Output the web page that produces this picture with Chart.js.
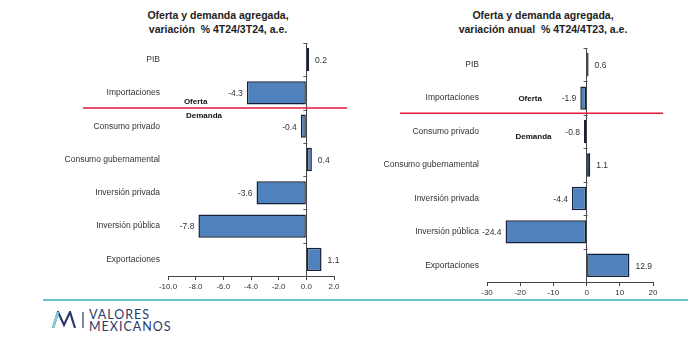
<!DOCTYPE html>
<html>
<head>
<meta charset="utf-8">
<script src="https://cdn.jsdelivr.net/npm/chart.js@4.4.1/dist/chart.umd.min.js"></script>
<style>
  body { margin: 0; background: #fff; width: 688px; height: 350px; position: relative; overflow: hidden; font-family: "Liberation Sans", Arial, sans-serif; }
  canvas { position: absolute; top: 0; }
  .titulo { position: absolute; top: 8px; width: 240px; font-weight: bold; font-size: 10.5px; line-height: 14px; text-align: center; color: #222; white-space: pre; }
  .linea { position: absolute; left: 43px; right: 0; top: 299px; height: 2px; background: #68c5cc; }
  .logo { position: absolute; left: 89px; top: 309px; font-family: Lato, "Open Sans", sans-serif; font-size: 12.5px; line-height: 11.5px; color: #2b3a6a; letter-spacing: 1px; }
  .icono { position: absolute; left: 51px; top: 311px; }
</style>
</head>
<body>
<div class="titulo" id="tituloIzq" style="left:98px"></div>
<div class="titulo" id="tituloDer" style="left:423px"></div>
<canvas id="graficaIzq" width="320" height="300" style="left:40px"></canvas>
<canvas id="graficaDer" width="300" height="306" style="left:370px"></canvas>
<div class="linea"></div>
<svg class="icono" width="36" height="18" viewBox="0 0 36 18">
  <path d="M2 17 L7 1 L13 14 L19 1 L24 17" fill="none" stroke="#2b3a6a" stroke-width="2.2"/>
  <path d="M2 17 L7 1" fill="none" stroke="#7fd0d6" stroke-width="2.4"/>
  <line x1="32" y1="1" x2="32" y2="17" stroke="#2b3a6a" stroke-width="1.2"/>
</svg>
<div class="logo">VALORES<br>MEXICANOS</div>

<script>
// Datos de la gráfica
const categorias = ['PIB', 'Importaciones', 'Consumo privado', 'Consumo gubernamental', 'Inversión privada', 'Inversión pública', 'Exportaciones'];
const varTrimestral = [0.2, -4.3, -0.4, 0.4, -3.6, -7.8, 1.1];
const varAnual = [0.6, -1.9, -0.8, 1.1, -4.4, -24.4, 12.9];
const tituloTrimestral = ['Oferta y demanda agregada,', 'variación  % 4T24/3T24, a.e.'];
const tituloAnual = ['Oferta y demanda agregada,', 'variación anual  % 4T24/4T23, a.e.'];
const ejeTrimestral = { min: -10, max: 2, paso: 2, decimales: 1 };
const ejeAnual = { min: -30, max: 20, paso: 10, decimales: 0 };

document.getElementById('tituloIzq').textContent = tituloTrimestral.join('\n');
document.getElementById('tituloDer').textContent = tituloAnual.join('\n');

const fuente = '"Liberation Sans", Arial, sans-serif';

// Plugin para etiquetas de valor, línea roja y textos Oferta / Demanda
const anotaciones = {
  id: 'anotaciones',
  afterDatasetsDraw(chart, args, opts) {
    const { ctx, chartArea } = chart;
    const x = chart.scales.x, y = chart.scales.y;
    const meta = chart.getDatasetMeta(0);
    const valores = chart.data.datasets[0].data;
    ctx.save();

    // marcas del eje de categorías sobre el cero
    const x0 = x.getPixelForValue(0);
    ctx.strokeStyle = '#555';
    ctx.lineWidth = 1;
    for (let i = 0; i <= valores.length; i++) {
      const yy = Math.round(y.getPixelForValue(i - 0.5)) + 0.5;
      ctx.beginPath();
      ctx.moveTo(x0 - 3, yy);
      ctx.lineTo(x0 + 1, yy);
      ctx.stroke();
    }

    // etiquetas de valor
    ctx.font = '8.5px ' + fuente;
    ctx.fillStyle = '#333';
    ctx.textBaseline = 'middle';
    meta.data.forEach((barra, i) => {
      const v = valores[i];
      if (v >= 0) {
        ctx.textAlign = 'left';
        ctx.fillText(v.toFixed(1), barra.x + 6, barra.y + 1);
      } else {
        ctx.textAlign = 'right';
        ctx.fillText(v.toFixed(1), barra.x - 4, barra.y + 1);
      }
    });

    // línea separadora Oferta / Demanda
    const ySep = y.getPixelForValue(opts.separador);
    ctx.strokeStyle = '#e3193b';
    ctx.lineWidth = 1.5;
    ctx.beginPath();
    ctx.moveTo(chartArea.left + opts.sepIzq, ySep);
    ctx.lineTo(chartArea.right + opts.sepDer, ySep);
    ctx.stroke();

    ctx.font = 'bold 8px ' + fuente;
    ctx.fillStyle = '#111';
    ctx.textAlign = 'center';
    ctx.fillText('Oferta', x.getPixelForValue(opts.oferta[0]), y.getPixelForValue(opts.oferta[1]));
    ctx.fillText('Demanda', x.getPixelForValue(opts.demanda[0]), y.getPixelForValue(opts.demanda[1]));
    ctx.restore();
  }
};

function crearGrafica(id, valores, eje, disposicion, anot) {
  return new Chart(document.getElementById(id), {
    type: 'bar',
    data: {
      labels: categorias,
      datasets: [{
        data: valores,
        backgroundColor: '#4f81bd',
        borderColor: '#15203a',
        borderWidth: 1.5,
        borderSkipped: false,
        barPercentage: 0.7,
        categoryPercentage: 1
      }]
    },
    options: {
      indexAxis: 'y',
      responsive: false,
      animation: false,
      devicePixelRatio: 1,
      layout: { padding: disposicion.padding },
      plugins: {
        legend: { display: false },
        tooltip: { enabled: false },
        anotaciones: anot
      },
      scales: {
        x: {
          min: eje.min,
          max: eje.max,
          afterFit: s => { s.height = 24; },
          afterBuildTicks: s => {
            const t = [];
            for (let v = eje.min; v <= eje.max; v += eje.paso) t.push({ value: v });
            s.ticks = t;
          },
          ticks: {
            font: { size: 8, family: fuente },
            color: '#333',
            padding: 2,
            maxRotation: 0,
            callback: v => Number(v).toFixed(eje.decimales)
          },
          grid: {
            color: c => (c.tick && c.tick.value === 0) ? '#444' : 'rgba(0,0,0,0)',
            tickColor: '#444',
            tickLength: 4
          },
          border: { color: '#444' }
        },
        y: {
          afterFit: s => { s.width = disposicion.anchoEje; },
          ticks: {
            font: { size: 8.5, family: fuente },
            color: '#333',
            padding: 8,
            autoSkip: false
          },
          grid: { display: false, drawTicks: false },
          border: { display: false }
        }
      }
    },
    plugins: [anotaciones]
  });
}

crearGrafica('graficaIzq', varTrimestral, ejeTrimestral,
  { padding: { top: 43, right: 26, bottom: 0, left: 0 }, anchoEje: 128 },
  { separador: 1.45, sepIzq: -85, sepDer: 13, oferta: [-8, 1.27], demanda: [-7.4, 1.7] });

crearGrafica('graficaDer', varAnual, ejeAnual,
  { padding: { top: 48, right: 17, bottom: 0, left: 0 }, anchoEje: 117 },
  { separador: 1.45, sepIzq: -87, sepDer: 10, oferta: [-17, 1.03], demanda: [-16, 2.17] });
</script>
</body>
</html>
